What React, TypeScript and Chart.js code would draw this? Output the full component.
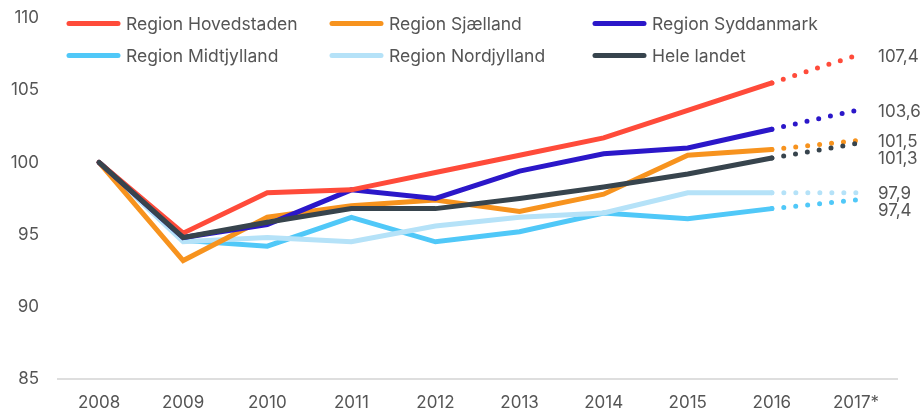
import React, { useEffect, useRef } from "react";
import { Chart, registerables } from "chart.js";

Chart.register(...registerables);

const years = ["2008", "2009", "2010", "2011", "2012", "2013", "2014", "2015", "2016", "2017*"];

const hovedstaden = [100, 95.1, 97.9, 98.1, 99.3, 100.5, 101.7, 103.6, 105.5, 107.4];
const sjaelland = [100, 93.2, 96.2, 97.0, 97.4, 96.6, 97.8, 100.5, 100.9, 101.5];
const syddanmark = [100, 94.8, 95.7, 98.1, 97.5, 99.4, 100.6, 101.0, 102.3, 103.6];
const midtjylland = [100, 94.6, 94.2, 96.2, 94.5, 95.2, 96.5, 96.1, 96.8, 97.4];
const nordjylland = [100, 94.5, 94.8, 94.5, 95.6, 96.2, 96.5, 97.9, 97.9, 97.9];
const heleLandet = [100, 94.8, 95.85, 96.8, 96.8, 97.5, 98.3, 99.2, 100.3, 101.3];

const yTicks = [85, 90, 95, 100, 105, 110];

const seriesNames = [
  "Region Hovedstaden",
  "Region Sjælland",
  "Region Syddanmark",
  "Region Midtjylland",
  "Region Nordjylland",
  "Hele landet",
];
const seriesValues = [hovedstaden, sjaelland, syddanmark, midtjylland, nordjylland, heleLandet];
const seriesColors = ["#FF4B3A", "#F7931E", "#2B17C9", "#50C8F8", "#B5E2F8", "#37444D"];
const seriesOrder = [1, 3, 2, 5, 4, 0];

const FONT = "Inter, 'Liberation Sans', sans-serif";
const TEXT = "#555555";

const legendPlugin = {
  id: "customLegend",
  afterDraw(chart: any) {
    const ctx = chart.ctx;
    const colX = [67, 330, 593];
    const rowY = [23.5, 55.5];
    ctx.save();
    ctx.font = `17.5px ${FONT}`;
    ctx.textBaseline = "middle";
    ctx.textAlign = "left";
    chart.data.datasets.forEach((ds: any, i: number) => {
      const x = colX[i % 3];
      const y = rowY[Math.floor(i / 3)];
      ctx.strokeStyle = ds.borderColor;
      ctx.lineWidth = 5;
      ctx.lineCap = "round";
      ctx.beginPath();
      ctx.moveTo(x + 2, y);
      ctx.lineTo(x + 51, y);
      ctx.stroke();
      ctx.fillStyle = TEXT;
      ctx.fillText(ds.label, x + 59, y + 1);
    });
    ctx.restore();
  },
};

const endLabelPlugin = {
  id: "endLabels",
  afterDatasetsDraw(chart: any) {
    const ctx = chart.ctx;
    const yScale = chart.scales.y;
    const items = chart.data.datasets.map((ds: any) => {
      const v = ds.data[ds.data.length - 1];
      return { v, y: yScale.getPixelForValue(v) };
    });
    items.sort((a: any, b: any) => a.y - b.y);
    const gap = 17;
    for (let i = 1; i < items.length; i++) {
      if (items[i].y - items[i - 1].y < gap) items[i].y = items[i - 1].y + gap;
    }
    ctx.save();
    ctx.font = `17px ${FONT}`;
    ctx.fillStyle = TEXT;
    ctx.textBaseline = "middle";
    ctx.textAlign = "left";
    items.forEach((it: any) => {
      ctx.fillText(it.v.toFixed(1).replace(".", ","), 878, it.y + 1);
    });
    ctx.restore();
  },
};

export default function App() {
  const ref = useRef<HTMLCanvasElement | null>(null);
  useEffect(() => {
    if (!ref.current) return;
    const lastIdx = years.length - 1;
    const chart = new Chart(ref.current, {
      type: "line",
      data: {
        labels: years,
        datasets: seriesNames.map((name, i) => ({
          label: name,
          data: seriesValues[i],
          borderColor: seriesColors[i],
          backgroundColor: seriesColors[i],
          borderWidth: 5,
          borderCapStyle: "round",
          borderJoinStyle: "miter",
          pointRadius: 0,
          tension: 0,
          order: seriesOrder[i],
          segment: {
            borderDash: (c: any) => (c.p1DataIndex === lastIdx ? [0, 12] : undefined),
          },
        })),
      },
      options: {
        animation: false,
        responsive: false,
        events: [],
        layout: { padding: { top: 18, right: 22, left: 0, bottom: 0 } },
        plugins: {
          legend: { display: false },
          tooltip: { enabled: false },
        },
        scales: {
          x: {
            type: "category",
            offset: true,
            grid: { display: false, drawTicks: false },
            border: { display: false },
            ticks: {
              color: TEXT,
              font: { family: FONT, size: 17 },
              padding: 14,
              maxRotation: 0,
            },
            afterFit: (s: any) => {
              s.height = 33;
              s.paddingLeft = 0;
              s.paddingRight = 0;
            },
          },
          y: {
            min: 85,
            max: 110,
            afterBuildTicks: (s: any) => {
              s.ticks = yTicks.map((v) => ({ value: v }));
            },
            grid: {
              drawTicks: false,
              color: (c: any) => (c.tick && c.tick.value === 85 ? "#DEDEDE" : "rgba(0,0,0,0)"),
              lineWidth: 2,
            },
            border: { display: false },
            ticks: {
              color: TEXT,
              font: { family: FONT, size: 17 },
              padding: 18,
            },
            afterFit: (s: any) => {
              s.width = 57;
              s.paddingTop = 0;
              s.paddingBottom = 0;
            },
          },
        },
      },
      plugins: [legendPlugin, endLabelPlugin],
    } as any);
    return () => chart.destroy();
  }, []);
  return (
    <div style={{ position: "absolute", left: 0, top: 0, width: 920, height: 412, background: "#fff" }}>
      <canvas ref={ref} width={920} height={412} style={{ display: "block" }} />
    </div>
  );
}
